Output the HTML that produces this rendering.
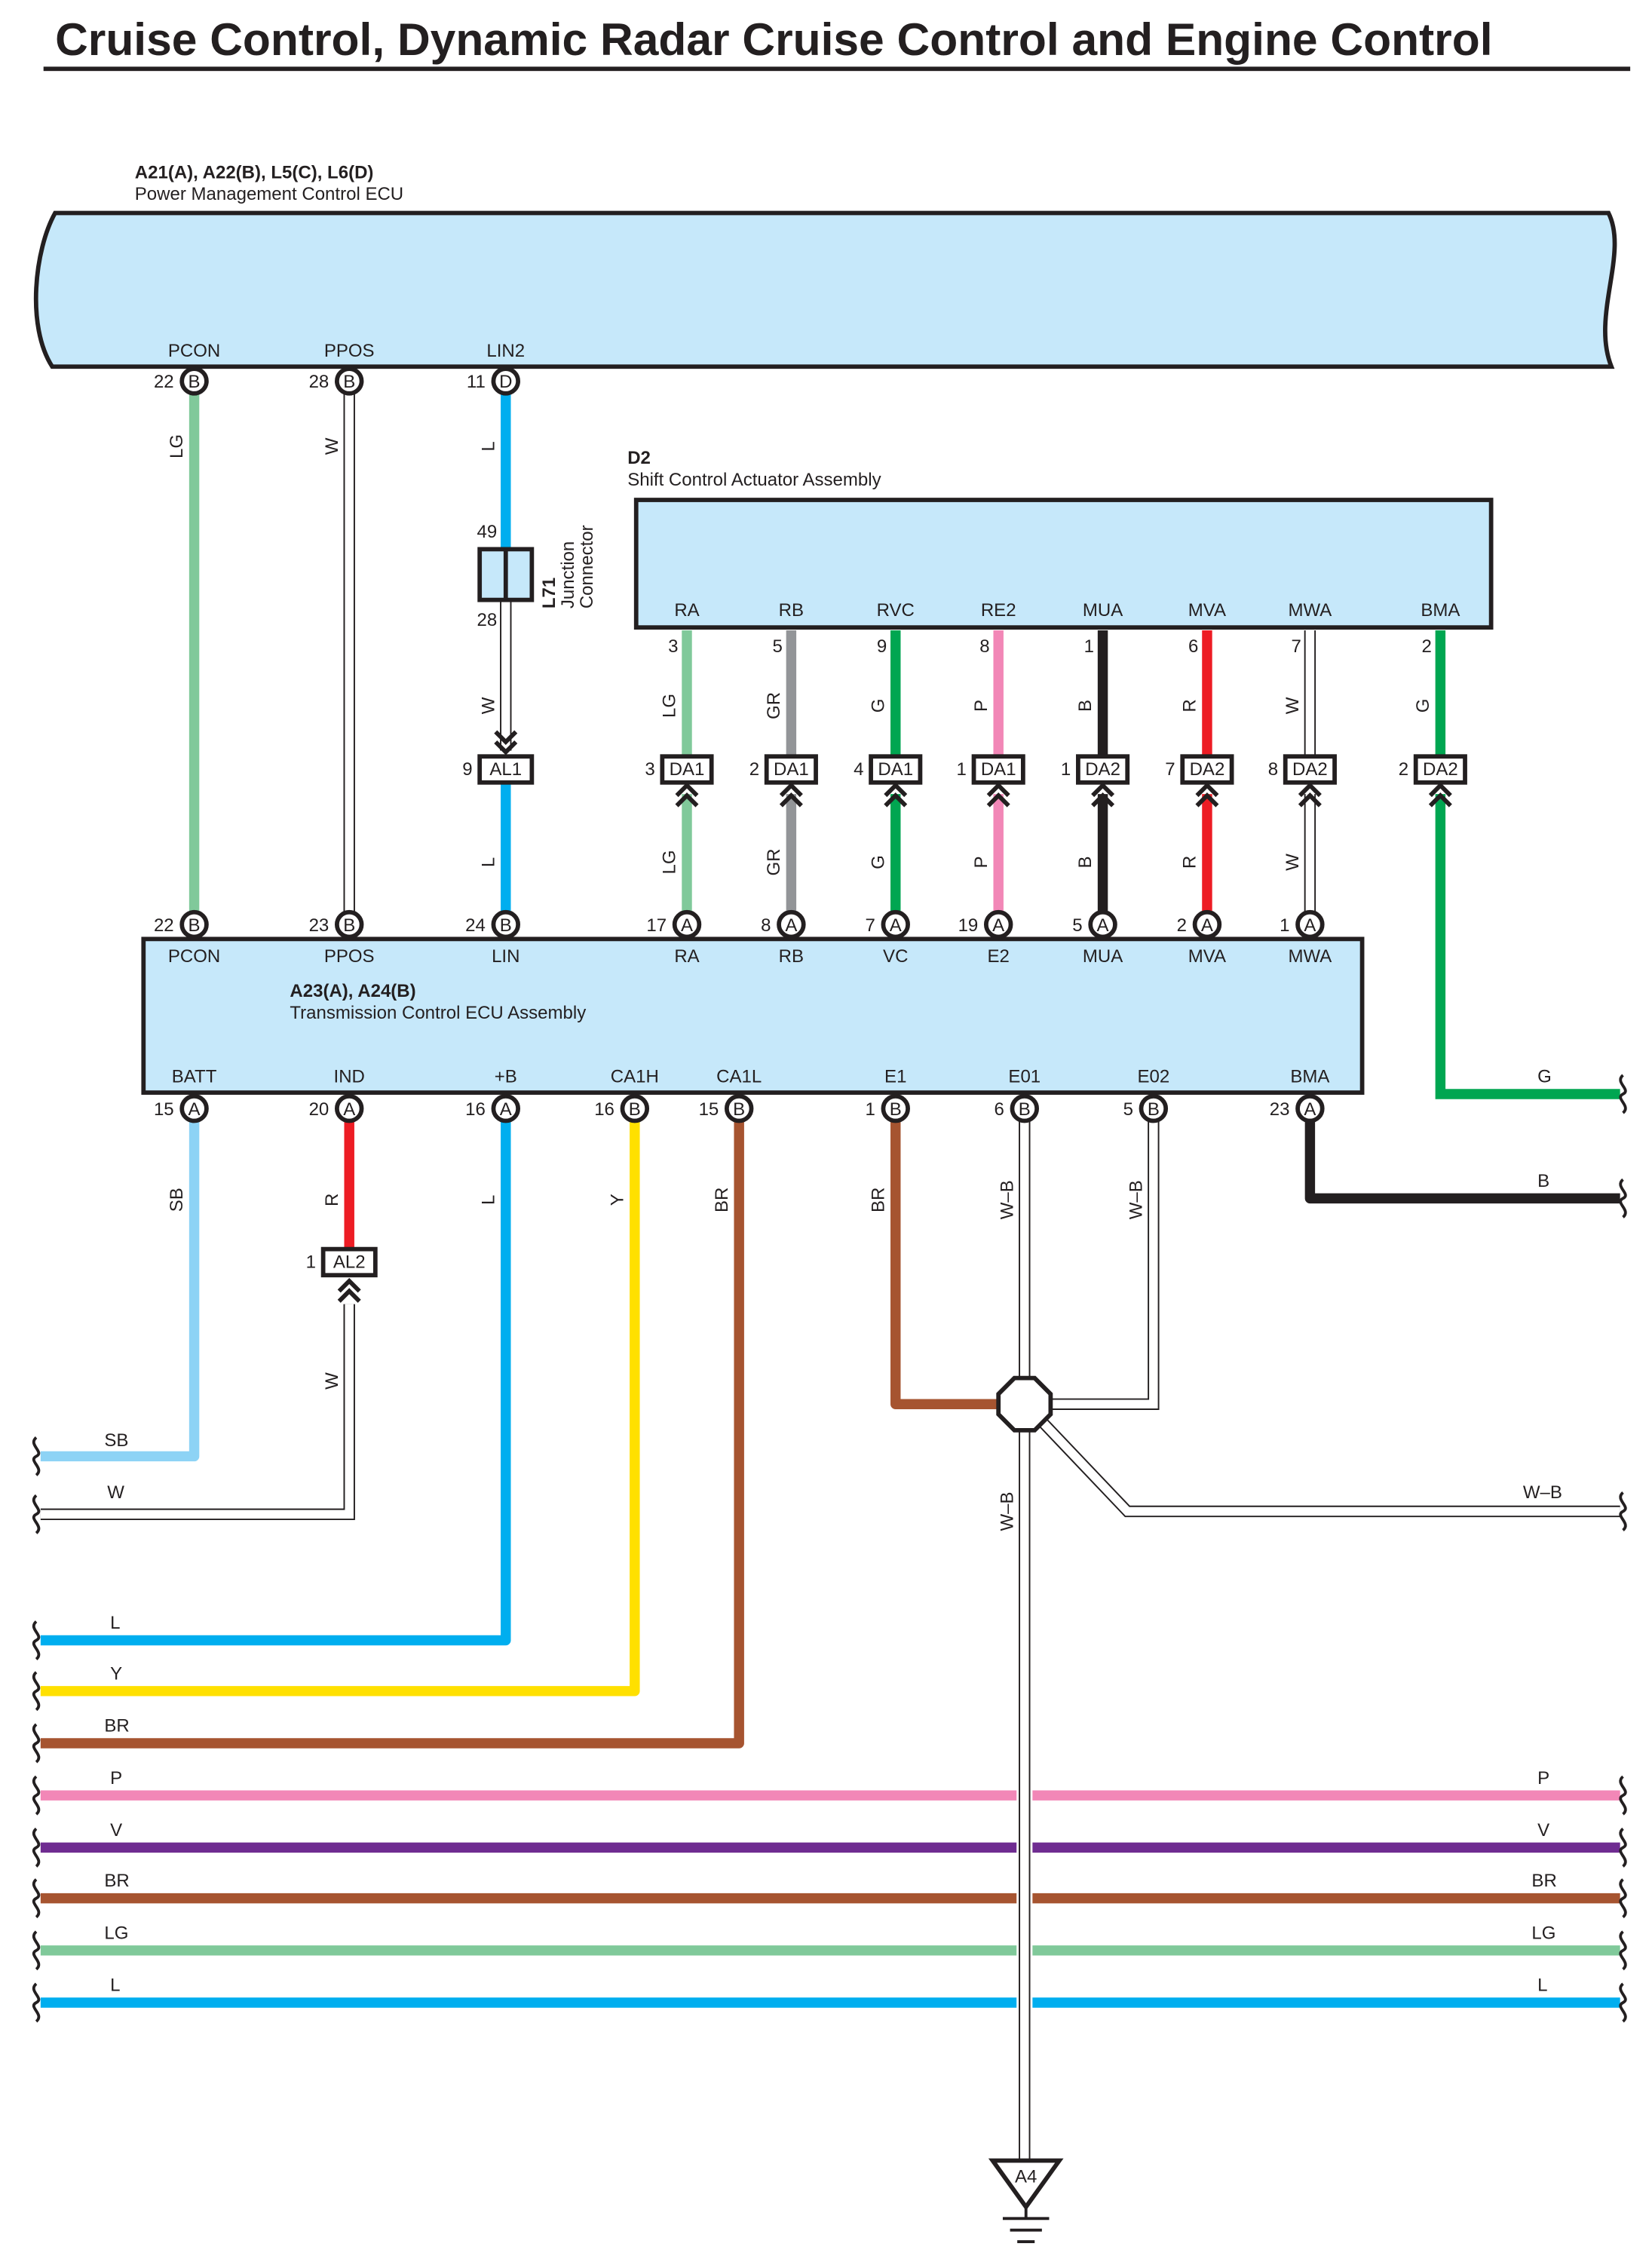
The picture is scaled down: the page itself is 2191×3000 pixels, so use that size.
<!DOCTYPE html>
<html><head><meta charset="utf-8">
<style>
html,body{margin:0;padding:0;background:#fff;}
svg{display:block;}
text{font-family:"Liberation Sans",sans-serif;fill:#231f20;}
.l{font-size:12.5px;}
.c{text-anchor:middle;}
.e{text-anchor:end;}
.b{font-weight:bold;}
</style></head><body>
<svg width="2191" height="3000" viewBox="0 0 1140 1561" xmlns="http://www.w3.org/2000/svg">
<defs>
<g id="pin"><circle cx="0" cy="0" r="8.5" fill="#fff" stroke="#231f20" stroke-width="3"/></g>
<g id="chu"><path d="M-7,8 L0,1 L7,8 M-7,15 L0,8 L7,15" fill="none" stroke="#231f20" stroke-width="3"/></g>
<g id="chd"><path d="M-7,-8 L0,-1 L7,-8 M-7,-15 L0,-8 L7,-15" fill="none" stroke="#231f20" stroke-width="3"/></g>
<path id="brk" d="M0,-13 C-6,-8 6,-3 0,0 C-6,3 6,8 0,13" fill="none" stroke="#231f20" stroke-width="2"/>
</defs>

<!-- Title -->
<text x="38" y="38" class="b" style="font-size:31.5px">Cruise Control, Dynamic Radar Cruise Control and Engine Control</text>
<rect x="30" y="46" width="1095" height="3" fill="#231f20"/>

<!-- ECU1 -->
<text x="93" y="123" class="l b">A21(A), A22(B), L5(C), L6(D)</text>
<text x="93" y="138" class="l">Power Management Control ECU</text>
<path d="M38,147 L1110,147 C1124,175 1098,218 1112,253 L36,253 C18,225 24,172 38,147 Z" fill="#c6e8fa" stroke="#231f20" stroke-width="3"/>
<text x="134" y="246" class="l c">PCON</text>
<text x="241" y="246" class="l c">PPOS</text>
<text x="349" y="246" class="l c">LIN2</text>

<!-- wires ECU1 -> ECU2 -->
<line x1="134" y1="270" x2="134" y2="630" stroke="#80c99a" stroke-width="7"/>
<line x1="241" y1="270" x2="241" y2="630" stroke="#231f20" stroke-width="8"/>
<line x1="241" y1="270" x2="241" y2="630" stroke="#fff" stroke-width="6"/>
<line x1="349" y1="270" x2="349" y2="378" stroke="#00aeef" stroke-width="7"/>
<line x1="349" y1="414" x2="349" y2="518" stroke="#231f20" stroke-width="8"/>
<line x1="349" y1="414" x2="349" y2="518" stroke="#fff" stroke-width="6"/>
<line x1="349" y1="540" x2="349" y2="630" stroke="#00aeef" stroke-width="7"/>
<rect x="331" y="379" width="36" height="35" fill="#c6e8fa" stroke="#231f20" stroke-width="3"/>
<line x1="349" y1="379" x2="349" y2="414" stroke="#231f20" stroke-width="3"/>
<use href="#chd" x="349" y="520"/>
<rect x="331" y="522" width="36" height="18" fill="#fff" stroke="#231f20" stroke-width="3"/>
<text x="349" y="535" class="l c">AL1</text>
<text x="326" y="535" class="l e">9</text>
<text x="343" y="371" class="l e">49</text>
<text x="343" y="432" class="l e">28</text>
<text transform="translate(383,420) rotate(-90)" class="l b">L71</text>
<text transform="translate(396,420) rotate(-90)" class="l">Junction</text>
<text transform="translate(409,420) rotate(-90)" class="l">Connector</text>

<text transform="translate(126,308) rotate(-90)" class="l c">LG</text>
<text transform="translate(233,308) rotate(-90)" class="l c">W</text>
<text transform="translate(341,308) rotate(-90)" class="l c">L</text>
<text transform="translate(341,487) rotate(-90)" class="l c">W</text>
<text transform="translate(341,595) rotate(-90)" class="l c">L</text>

<!-- ECU1 pins -->
<use href="#pin" x="134" y="263"/><text x="134" y="267.5" class="l c">B</text><text x="120" y="267.5" class="l e">22</text>
<use href="#pin" x="241" y="263"/><text x="241" y="267.5" class="l c">B</text><text x="227" y="267.5" class="l e">28</text>
<use href="#pin" x="349" y="263"/><text x="349" y="267.5" class="l c">D</text><text x="335" y="267.5" class="l e">11</text>

<!-- D2 -->
<text x="433" y="320" class="l b">D2</text>
<text x="433" y="335" class="l">Shift Control Actuator Assembly</text>
<rect x="439" y="345" width="590" height="88" fill="#c6e8fa" stroke="#231f20" stroke-width="3"/>
<g class="l c">
<text x="474" y="425">RA</text><text x="546" y="425">RB</text><text x="618" y="425">RVC</text><text x="689" y="425">RE2</text>
<text x="761" y="425">MUA</text><text x="833" y="425">MVA</text><text x="904" y="425">MWA</text><text x="994" y="425">BMA</text>
</g>
<g class="l e">
<text x="468" y="450">3</text><text x="540" y="450">5</text><text x="612" y="450">9</text><text x="683" y="450">8</text>
<text x="755" y="450">1</text><text x="827" y="450">6</text><text x="898" y="450">7</text><text x="988" y="450">2</text>
</g>
<!-- D2 wires -->
<g stroke-width="7">
<line x1="474" y1="435" x2="474" y2="522" stroke="#80c99a"/><line x1="474" y1="548" x2="474" y2="630" stroke="#80c99a"/>
<line x1="546" y1="435" x2="546" y2="522" stroke="#939598"/><line x1="546" y1="548" x2="546" y2="630" stroke="#939598"/>
<line x1="618" y1="435" x2="618" y2="522" stroke="#00a651"/><line x1="618" y1="548" x2="618" y2="630" stroke="#00a651"/>
<line x1="689" y1="435" x2="689" y2="522" stroke="#f287b7"/><line x1="689" y1="548" x2="689" y2="630" stroke="#f287b7"/>
<line x1="761" y1="435" x2="761" y2="522" stroke="#231f20"/><line x1="761" y1="548" x2="761" y2="630" stroke="#231f20"/>
<line x1="833" y1="435" x2="833" y2="522" stroke="#ed1c24"/><line x1="833" y1="548" x2="833" y2="630" stroke="#ed1c24"/>
<line x1="994" y1="435" x2="994" y2="522" stroke="#00a651"/>
<path d="M994,548 L994,755 L1118,755" fill="none" stroke="#00a651"/>
</g>
<line x1="904" y1="435" x2="904" y2="522" stroke="#231f20" stroke-width="8"/><line x1="904" y1="435" x2="904" y2="522" stroke="#fff" stroke-width="6"/>
<line x1="904" y1="548" x2="904" y2="630" stroke="#231f20" stroke-width="8"/><line x1="904" y1="548" x2="904" y2="630" stroke="#fff" stroke-width="6"/>
<g>
<use href="#chu" x="474" y="541"/><use href="#chu" x="546" y="541"/><use href="#chu" x="618" y="541"/><use href="#chu" x="689" y="541"/>
<use href="#chu" x="761" y="541"/><use href="#chu" x="833" y="541"/><use href="#chu" x="904" y="541"/><use href="#chu" x="994" y="541"/>
</g>
<g fill="#fff" stroke="#231f20" stroke-width="3">
<rect x="457" y="522" width="34" height="18"/><rect x="529" y="522" width="34" height="18"/><rect x="601" y="522" width="34" height="18"/><rect x="672" y="522" width="34" height="18"/>
<rect x="744" y="522" width="34" height="18"/><rect x="816" y="522" width="34" height="18"/><rect x="887" y="522" width="34" height="18"/><rect x="977" y="522" width="34" height="18"/>
</g>
<g class="l c">
<text x="474" y="535">DA1</text><text x="546" y="535">DA1</text><text x="618" y="535">DA1</text><text x="689" y="535">DA1</text>
<text x="761" y="535">DA2</text><text x="833" y="535">DA2</text><text x="904" y="535">DA2</text><text x="994" y="535">DA2</text>
</g>
<g class="l e">
<text x="452" y="535">3</text><text x="524" y="535">2</text><text x="596" y="535">4</text><text x="667" y="535">1</text>
<text x="739" y="535">1</text><text x="811" y="535">7</text><text x="882" y="535">8</text><text x="972" y="535">2</text>
</g>
<g class="l c">
<text transform="translate(466,487) rotate(-90)">LG</text><text transform="translate(466,595) rotate(-90)">LG</text>
<text transform="translate(538,487) rotate(-90)">GR</text><text transform="translate(538,595) rotate(-90)">GR</text>
<text transform="translate(610,487) rotate(-90)">G</text><text transform="translate(610,595) rotate(-90)">G</text>
<text transform="translate(681,487) rotate(-90)">P</text><text transform="translate(681,595) rotate(-90)">P</text>
<text transform="translate(753,487) rotate(-90)">B</text><text transform="translate(753,595) rotate(-90)">B</text>
<text transform="translate(825,487) rotate(-90)">R</text><text transform="translate(825,595) rotate(-90)">R</text>
<text transform="translate(896,487) rotate(-90)">W</text><text transform="translate(896,595) rotate(-90)">W</text>
<text transform="translate(986,487) rotate(-90)">G</text>
</g>

<!-- ECU2 -->
<rect x="99" y="648" width="841" height="106" fill="#c6e8fa" stroke="#231f20" stroke-width="3"/>
<g class="l c">
<text x="134" y="664">PCON</text><text x="241" y="664">PPOS</text><text x="349" y="664">LIN</text><text x="474" y="664">RA</text>
<text x="546" y="664">RB</text><text x="618" y="664">VC</text><text x="689" y="664">E2</text><text x="761" y="664">MUA</text>
<text x="833" y="664">MVA</text><text x="904" y="664">MWA</text>
<text x="134" y="747">BATT</text><text x="241" y="747">IND</text><text x="349" y="747">+B</text><text x="438" y="747">CA1H</text>
<text x="510" y="747">CA1L</text><text x="618" y="747">E1</text><text x="707" y="747">E01</text><text x="796" y="747">E02</text><text x="904" y="747">BMA</text>
</g>
<text x="200" y="688" class="l b">A23(A), A24(B)</text>
<text x="200" y="703" class="l">Transmission Control ECU Assembly</text>

<!-- ECU2 top pins -->
<g>
<use href="#pin" x="134" y="638"/><use href="#pin" x="241" y="638"/><use href="#pin" x="349" y="638"/><use href="#pin" x="474" y="638"/>
<use href="#pin" x="546" y="638"/><use href="#pin" x="618" y="638"/><use href="#pin" x="689" y="638"/><use href="#pin" x="761" y="638"/>
<use href="#pin" x="833" y="638"/><use href="#pin" x="904" y="638"/>
</g>
<g class="l c">
<text x="134" y="642.5">B</text><text x="241" y="642.5">B</text><text x="349" y="642.5">B</text><text x="474" y="642.5">A</text>
<text x="546" y="642.5">A</text><text x="618" y="642.5">A</text><text x="689" y="642.5">A</text><text x="761" y="642.5">A</text>
<text x="833" y="642.5">A</text><text x="904" y="642.5">A</text>
</g>
<g class="l e">
<text x="120" y="642.5">22</text><text x="227" y="642.5">23</text><text x="335" y="642.5">24</text><text x="460" y="642.5">17</text>
<text x="532" y="642.5">8</text><text x="604" y="642.5">7</text><text x="675" y="642.5">19</text><text x="747" y="642.5">5</text>
<text x="819" y="642.5">2</text><text x="890" y="642.5">1</text>
</g>

<!-- horizontal bus wires -->
<g stroke-width="7" fill="none">
<line x1="28" y1="1239" x2="1118" y2="1239" stroke="#f287b7"/>
<line x1="28" y1="1275" x2="1118" y2="1275" stroke="#6f2c91"/>
<line x1="28" y1="1310" x2="1118" y2="1310" stroke="#a65430"/>
<line x1="28" y1="1346" x2="1118" y2="1346" stroke="#80c99a"/>
<line x1="28" y1="1382" x2="1118" y2="1382" stroke="#00aeef"/>
</g>
<g class="l">
<text x="76" y="1231">P</text><text x="76" y="1267">V</text><text x="72" y="1302">BR</text><text x="72" y="1338">LG</text><text x="76" y="1374">L</text>
<text x="1061" y="1231">P</text><text x="1061" y="1267">V</text><text x="1057" y="1302">BR</text><text x="1057" y="1338">LG</text><text x="1061" y="1374">L</text>
</g>

<!-- ECU2 bottom wires -->
<g fill="none" stroke-width="7" stroke-linejoin="round">
<path d="M134,772 L134,1005 L28,1005" stroke="#8dd3f5"/>
<line x1="241" y1="772" x2="241" y2="862" stroke="#ed1c24"/>
<path d="M349,772 L349,1132 L28,1132" stroke="#00aeef"/>
<path d="M438,772 L438,1167 L28,1167" stroke="#ffe000"/>
<path d="M510,772 L510,1203 L28,1203" stroke="#a65430"/>
<path d="M618,772 L618,969 L692,969" stroke="#a65430"/>
<path d="M904,772 L904,827 L1118,827" stroke="#231f20"/>
</g>
<!-- white/black double wires -->
<g fill="none" stroke-linejoin="miter">
<path d="M241,900 L241,1045 L28,1045" stroke="#231f20" stroke-width="8"/>
<path d="M241,900 L241,1045 L28,1045" stroke="#fff" stroke-width="6"/>
<path d="M796,772 L796,969 L722,969" stroke="#231f20" stroke-width="8"/>
<path d="M796,772 L796,969 L722,969" stroke="#fff" stroke-width="6"/>
<path d="M720,982 L778,1043 L1118,1043" stroke="#231f20" stroke-width="8"/>
<path d="M720,982 L778,1043 L1118,1043" stroke="#fff" stroke-width="6"/>
<line x1="707" y1="772" x2="707" y2="952" stroke="#231f20" stroke-width="8"/>
<line x1="707" y1="772" x2="707" y2="952" stroke="#fff" stroke-width="6"/>
<line x1="707" y1="986" x2="707" y2="1492" stroke="#fff" stroke-width="11"/>
<line x1="707" y1="986" x2="707" y2="1492" stroke="#231f20" stroke-width="8"/>
<line x1="707" y1="986" x2="707" y2="1492" stroke="#fff" stroke-width="6"/>
</g>
<!-- splice -->
<polygon points="700,951 714,951 725,962 725,976 714,987 700,987 689,976 689,962" fill="#fff" stroke="#231f20" stroke-width="3"/>

<!-- AL2 -->
<use href="#chu" x="241" y="883"/>
<rect x="223" y="862" width="36" height="18" fill="#fff" stroke="#231f20" stroke-width="3"/>
<text x="241" y="875" class="l c">AL2</text>
<text x="218" y="875" class="l e">1</text>

<!-- bottom pins -->
<g>
<use href="#pin" x="134" y="765"/><use href="#pin" x="241" y="765"/><use href="#pin" x="349" y="765"/><use href="#pin" x="438" y="765"/>
<use href="#pin" x="510" y="765"/><use href="#pin" x="618" y="765"/><use href="#pin" x="707" y="765"/><use href="#pin" x="796" y="765"/><use href="#pin" x="904" y="765"/>
</g>
<g class="l c">
<text x="134" y="769.5">A</text><text x="241" y="769.5">A</text><text x="349" y="769.5">A</text><text x="438" y="769.5">B</text>
<text x="510" y="769.5">B</text><text x="618" y="769.5">B</text><text x="707" y="769.5">B</text><text x="796" y="769.5">B</text><text x="904" y="769.5">A</text>
</g>
<g class="l e">
<text x="120" y="769.5">15</text><text x="227" y="769.5">20</text><text x="335" y="769.5">16</text><text x="424" y="769.5">16</text>
<text x="496" y="769.5">15</text><text x="604" y="769.5">1</text><text x="693" y="769.5">6</text><text x="782" y="769.5">5</text><text x="890" y="769.5">23</text>
</g>

<!-- rotated wire labels below ECU2 -->
<g class="l c">
<text transform="translate(126,828) rotate(-90)">SB</text>
<text transform="translate(233,828) rotate(-90)">R</text>
<text transform="translate(233,953) rotate(-90)">W</text>
<text transform="translate(341,828) rotate(-90)">L</text>
<text transform="translate(430,828) rotate(-90)">Y</text>
<text transform="translate(502,828) rotate(-90)">BR</text>
<text transform="translate(610,828) rotate(-90)">BR</text>
<text transform="translate(699,828) rotate(-90)">W–B</text>
<text transform="translate(788,828) rotate(-90)">W–B</text>
<text transform="translate(699,1043) rotate(-90)">W–B</text>
</g>
<g class="l">
<text x="72" y="998">SB</text><text x="74" y="1034">W</text><text x="76" y="1124">L</text><text x="76" y="1159">Y</text><text x="72" y="1195">BR</text>
<text x="1061" y="747">G</text><text x="1061" y="819">B</text><text x="1051" y="1034">W–B</text>
</g>

<!-- break marks -->
<g>
<use href="#brk" x="25" y="1005"/><use href="#brk" x="25" y="1045"/><use href="#brk" x="25" y="1132"/><use href="#brk" x="25" y="1167"/>
<use href="#brk" x="25" y="1203"/><use href="#brk" x="25" y="1239"/><use href="#brk" x="25" y="1275"/><use href="#brk" x="25" y="1310"/>
<use href="#brk" x="25" y="1346"/><use href="#brk" x="25" y="1382"/>
<use href="#brk" x="1120" y="755"/><use href="#brk" x="1120" y="827"/><use href="#brk" x="1120" y="1043"/><use href="#brk" x="1120" y="1239"/>
<use href="#brk" x="1120" y="1275"/><use href="#brk" x="1120" y="1310"/><use href="#brk" x="1120" y="1346"/><use href="#brk" x="1120" y="1382"/>
</g>

<!-- ground -->
<polygon points="685,1491 731,1491 708,1523" fill="#fff" stroke="#231f20" stroke-width="3"/>
<text x="708" y="1506" class="l c">A4</text>
<line x1="708" y1="1523" x2="708" y2="1531" stroke="#231f20" stroke-width="2"/>
<line x1="692" y1="1531" x2="724" y2="1531" stroke="#231f20" stroke-width="2"/>
<line x1="697" y1="1539" x2="719" y2="1539" stroke="#231f20" stroke-width="2"/>
<line x1="702" y1="1547" x2="714" y2="1547" stroke="#231f20" stroke-width="2"/>
</svg>
</body></html>
